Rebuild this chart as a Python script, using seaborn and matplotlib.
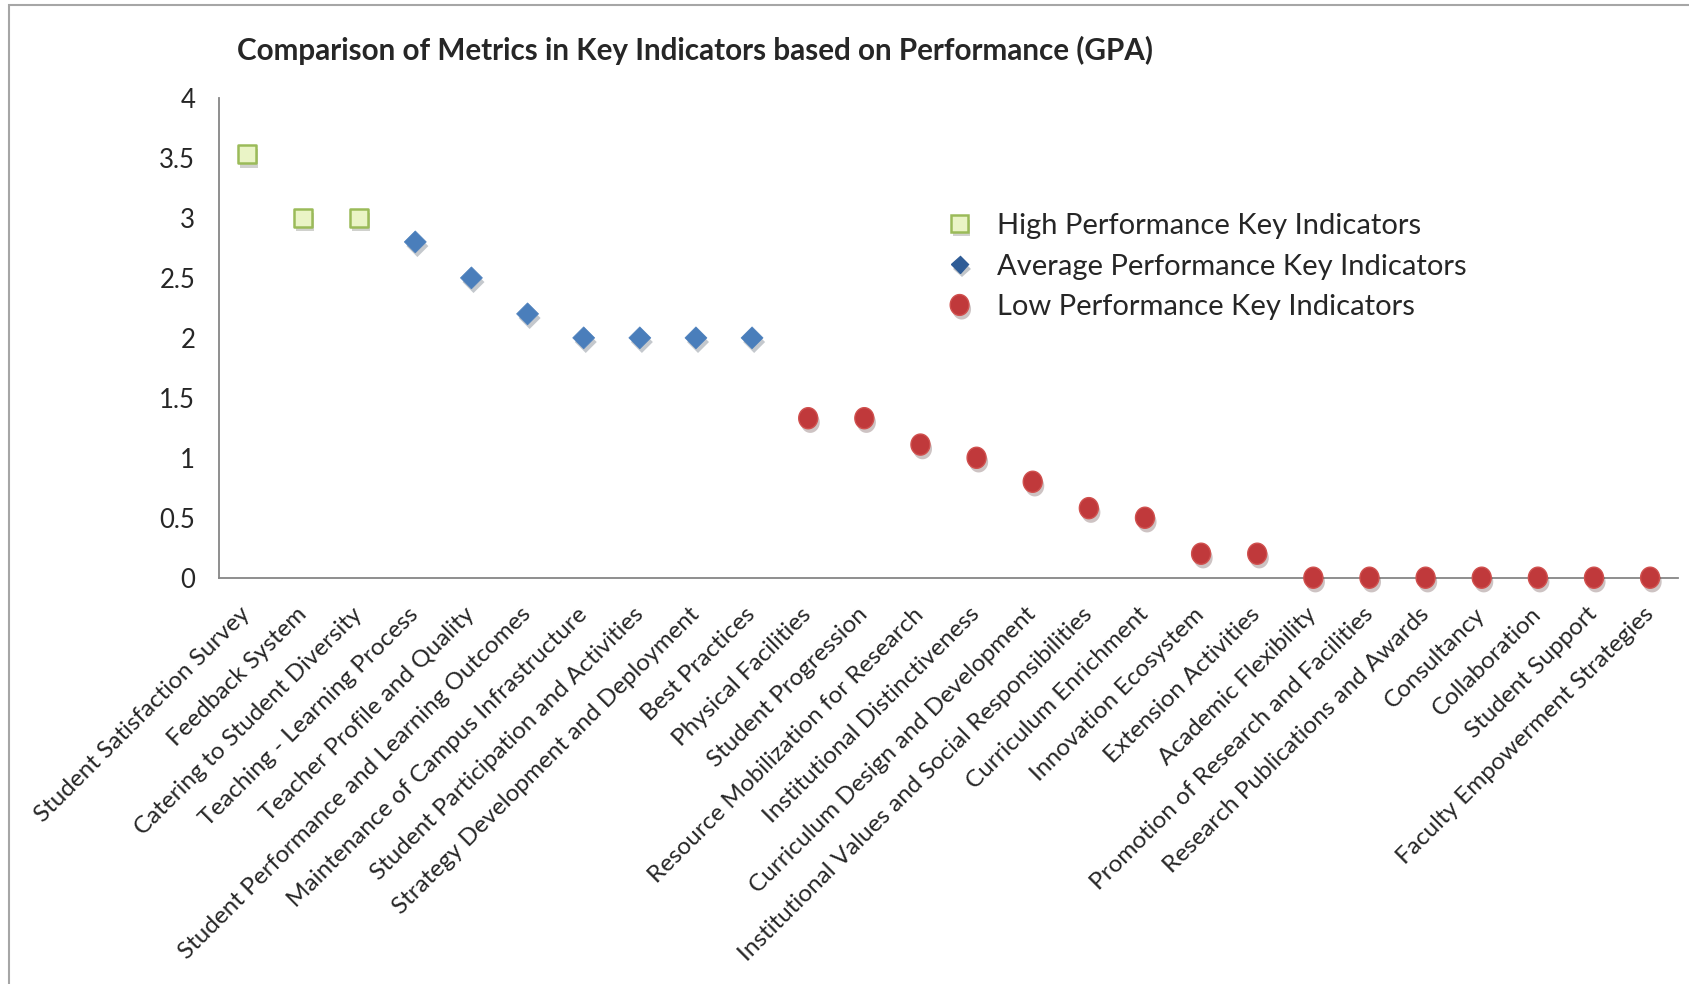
import numpy as np
import pandas as pd
import seaborn as sns
import matplotlib.pyplot as plt
from matplotlib.lines import Line2D
from matplotlib.patches import Rectangle
from matplotlib.path import Path
import matplotlib.patheffects as pe

# key indicators, in plotted order
categories = [
    "Student Satisfaction Survey", "Feedback System", "Catering to Student Diversity",
    "Teaching - Learning Process", "Teacher Profile and Quality",
    "Student Performance and Learning Outcomes", "Maintenance of Campus Infrastructure",
    "Student Participation and Activities", "Strategy Development and Deployment",
    "Best Practices", "Physical Facilities", "Student Progression",
    "Resource Mobilization for Research", "Institutional Distinctiveness",
    "Curriculum Design and Development", "Institutional Values and Social Responsibilities",
    "Curriculum Enrichment", "Innovation Ecosystem", "Extension Activities",
    "Academic Flexibility", "Promotion of Research and Facilities",
    "Research Publications and Awards", "Consultancy", "Collaboration",
    "Student Support", "Faculty Empowerment Strategies",
]
high_values = [3.53, 3.0, 3.0]
avg_values = [2.8, 2.5, 2.2, 2.0, 2.0, 2.0, 2.0]
low_values = [1.33, 1.33, 1.11, 1.0, 0.8, 0.58, 0.5, 0.2, 0.2, 0, 0, 0, 0, 0, 0, 0]
group_names = ["High Performance Key Indicators",
               "Average Performance Key Indicators",
               "Low Performance Key Indicators"]

df = pd.DataFrame({
    "indicator": categories,
    "gpa": high_values + avg_values + low_values,
    "group": [group_names[0]] * len(high_values) + [group_names[1]] * len(avg_values)
             + [group_names[2]] * len(low_values),
})
df["pos"] = np.arange(len(df))

sns.set_style("white")
plt.rcParams["font.family"] = ["Lato", "DejaVu Sans"]

fig = plt.figure(figsize=(16.9, 9.84), dpi=100)
ax = fig.add_axes([0.1295, 0.4129, 0.8635, 0.4875])

shadow = [pe.SimplePatchShadow(offset=(1.5, -3), alpha=0.25), pe.Normal()]

# slightly tall ellipse for the red points
t = np.linspace(0, 2 * np.pi, 60)
egg = Path(np.column_stack([0.9 * np.cos(t), np.sin(t)]), closed=True)

styles = {
    group_names[0]: dict(marker="s", s=170, color="#EAF4C6", edgecolor="#9BBB59", linewidth=1.8),
    group_names[1]: dict(marker="D", s=125, color="#4A7EBB", edgecolor="#4A7EBB", linewidth=0.5),
    group_names[2]: dict(marker=egg, s=230, color="#C0393B", edgecolor="#D0504E", linewidth=1.0),
}
for g in group_names:
    sub = df[df["group"] == g]
    sns.scatterplot(data=sub, x="pos", y="gpa", ax=ax, legend=False, zorder=3, **styles[g])
for coll in ax.collections:
    coll.set_path_effects(shadow)
    coll.set_clip_on(False)

ax.set_xlim(-0.5, len(categories) - 0.5)
ax.set_ylim(0, 4)
ax.set_yticks(np.arange(0, 4.01, 0.5))
ax.set_yticklabels([f"{v:g}" for v in np.arange(0, 4.01, 0.5)])
ax.set_xticks(np.arange(len(categories)))
ax.set_xticklabels(categories, rotation=45, ha="right", va="center", rotation_mode="anchor")
ax.set_xticks(np.arange(-0.5, len(categories)), minor=True)
ax.tick_params(axis="x", which="major", length=0, pad=24, labelsize=17.5)
ax.tick_params(axis="x", which="minor", length=7, width=1.2, color="#868686", direction="out")
ax.tick_params(axis="y", length=6, width=1.2, color="#868686", direction="out", pad=11, labelsize=18.5)
ax.set_xlabel("")
ax.set_ylabel("")
sns.despine(ax=ax)
for side in ["left", "bottom"]:
    ax.spines[side].set_color("#868686")
    ax.spines[side].set_linewidth(1.3)

fig.text(237 / 1690, 1 - 50 / 984,
         "Comparison of Metrics in Key Indicators based on Performance (GPA)",
         fontsize=21.3, fontweight="bold", va="center", ha="left")

handles = [
    Line2D([], [], linestyle="none", marker="s", markersize=12, markerfacecolor="#EAF4C6",
           markeredgecolor="#9BBB59", markeredgewidth=1.8),
    Line2D([], [], linestyle="none", marker="D", markersize=9, markerfacecolor="#2F5C96",
           markeredgecolor="#2F5C96"),
    Line2D([], [], linestyle="none", marker=egg, markersize=15, markerfacecolor="#C0393B",
           markeredgecolor="#D0504E"),
]
leg = fig.legend(handles, group_names, loc="upper left", bbox_to_anchor=(945 / 1690, 1 - 213 / 984),
                 frameon=False, fontsize=21, handlelength=1.0, handletextpad=0.8, labelspacing=0.5,
                 borderpad=0, borderaxespad=0)
for h in leg.legend_handles:
    h.set_path_effects(shadow)

fig.add_artist(Rectangle((8.6 / 1690, -0.2), 1.5, 1.2 - 5.4 / 984, transform=fig.transFigure,
                         fill=False, edgecolor="#A6A6A6", linewidth=1.5))

fig.savefig("out.png", dpi=100)
